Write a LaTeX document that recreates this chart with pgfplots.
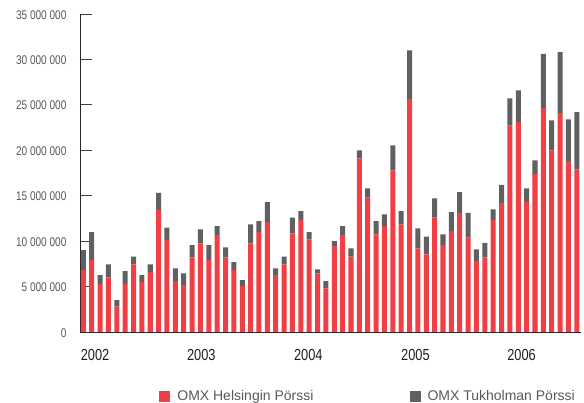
\documentclass[border=0pt]{standalone}
\usepackage{fontspec}
\setmainfont{Liberation Sans}
\newfontfamily\condensed[FakeStretch=0.8]{Liberation Sans}
\usepackage{pgfplots}
\pgfplotsset{compat=1.18}
\definecolor{hexred}{HTML}{F04045}
\definecolor{hexgrey}{HTML}{606060}
\definecolor{labelgrey}{HTML}{585858}

% Monthly turnover, millions: Helsinki (hel) and Stockholm (sto), Jan 2002 onwards
\usepackage{pgfplotstable}
\pgfplotstableread{
m hel sto
0 6.8 2.2
1 7.9 3.1
2 5.3 0.95
3 6.0 1.45
4 2.8 0.7
5 5.3 1.4
6 7.45 0.85
7 5.5 0.75
8 6.6 0.85
9 13.4 1.9
10 10.1 1.4
11 5.6 1.4
12 5.15 1.3
13 8.2 1.35
14 9.75 1.55
15 7.9 1.65
16 10.65 1.0
17 8.2 1.1
18 6.8 0.9
19 5.05 0.65
20 9.75 2.1
21 11.0 1.2
22 12.1 2.2
23 6.25 0.75
24 7.45 0.85
25 10.85 1.75
26 12.3 1.0
27 10.2 0.8
28 6.45 0.45
29 4.8 0.8
30 9.45 0.55
31 10.65 1.0
32 8.3 0.9
33 19.1 0.9
34 14.8 1.0
35 10.75 1.45
36 11.65 1.3
37 17.8 2.75
38 11.85 1.45
39 25.65 5.35
40 9.2 2.2
41 8.55 1.95
42 12.6 2.1
43 9.55 1.2
44 11.1 2.1
45 13.1 2.3
46 10.4 2.7
47 7.8 1.3
48 8.2 1.6
49 12.3 1.2
50 14.2 2.0
51 22.7 3.0
52 23.1 3.5
53 14.3 1.5
54 17.4 1.5
55 24.65 5.95
56 20.0 3.3
57 24.1 6.7
58 18.8 4.6
59 17.9 6.3
}\turnover

\newcommand{\gap}{\hspace{2.8pt}}

\begin{document}
\begin{tikzpicture}
\path[use as bounding box] (-80pt,-71pt) rectangle (504pt,332pt);
\begin{axis}[
  at={(0,0)}, anchor=south west,
  scale only axis, width=501pt, height=318pt,
  ybar stacked, bar width=0.6,
  xmin=-0.4, xmax=59.5, ymin=0, ymax=35,
  axis lines*=left,
  axis line style={draw=black!85, line width=0.8pt},
  tick align=inside,
  ytick={0,5,...,35},
  yticklabels={0,5\gap000\gap000,10\gap000\gap000,15\gap000\gap000,20\gap000\gap000,25\gap000\gap000,30\gap000\gap000,35\gap000\gap000},
  ytick pos=left,
  major tick length=12pt,
  y tick style={draw=black!75, line width=0.8pt},
  yticklabel style={font=\condensed\fontsize{12.6}{12.6}\selectfont, text=labelgrey, xshift=-10pt, yshift=-0.8pt},
  xtick={1.4,14.1,26.9,39.7,52.4},
  xticklabels={2002,2003,2004,2005,2006},
  x tick style={draw=none},
  xticklabel style={font=\condensed\fontsize{16}{16}\selectfont, text=black!88, yshift=-14pt},
  legend columns=2,
  legend style={draw=none, fill=none, inner sep=0pt,
    at={(axis description cs:0.158,-0.203)}, anchor=west,
    font=\fontsize{14}{14}\selectfont, text=labelgrey,
    /tikz/every even column/.append style={column sep=94pt}},
  legend image code/.code={\fill[#1] (0pt,-5.5pt) rectangle (11pt,5.5pt); \path (0pt,0pt) -- (16pt,0pt);},
]
\addplot[fill=hexred, draw=none] table[x=m, y=hel] {\turnover};
\addplot[fill=hexgrey, draw=none] table[x=m, y=sto] {\turnover};
\legend{OMX Helsingin Pörssi, OMX Tukholman Pörssi}
\end{axis}
\end{tikzpicture}
\end{document}
